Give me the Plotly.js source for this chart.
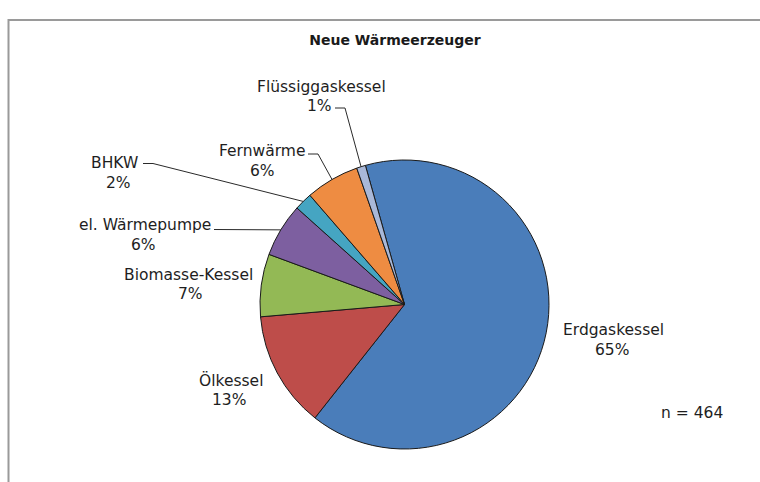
<!DOCTYPE html>
<html><head><meta charset="utf-8">
<script src="https://cdn.plot.ly/plotly-3.0.1.min.js"></script>
<style>html,body{margin:0;padding:0;background:#fff}</style>
</head><body><div id="chart" style="width:760px;height:482px"></div>
<script>
// ---- data ----
const categories = ['Erdgaskessel', 'Ölkessel', 'Biomasse-Kessel', 'el. Wärmepumpe', 'BHKW', 'Fernwärme', 'Flüssiggaskessel'];
const shares = [65, 13, 7, 6, 2, 6, 1];
const sliceColors = ['#4A7DBA', '#BE4D4A', '#93B955', '#7D5FA0', '#45A5C2', '#EE8C42', '#A9B8D8'];
const chartTitle = 'Neue Wärmeerzeuger';
const sampleNote = 'n = 464';

// ---- layout helpers (pixel -> paper) ----
const W = 760, H = 482;
const cx = 404.5, cy = 304.5, R = 144.5;
const rotation = -15.7;
const px = x => x / W;
const py = y => 1 - y / H;

// label positions (name centre, percent centre) and optional leader start/elbow in px
const labelLayout = {
  'Erdgaskessel':     {nx: 613, ny: 330, qx: 612, qy: 350},
  'Ölkessel':         {nx: 231, ny: 380, qx: 229, qy: 400},
  'Biomasse-Kessel':  {nx: 188, ny: 275, qx: 190, qy: 294},
  'el. Wärmepumpe':   {nx: 145, ny: 225, qx: 143, qy: 245, lead: [[214, 229.5]]},
  'BHKW':             {nx: 114, ny: 163, qx: 118, qy: 183, lead: [[143, 163.5], [153, 163.5]]},
  'Fernwärme':        {nx: 262, ny: 151, qx: 262, qy: 171, lead: [[308, 154], [318, 154]]},
  'Flüssiggaskessel': {nx: 321, ny: 87,  qx: 319, qy: 106, lead: [[335, 108], [345, 108]]}
};

const fontFam = 'DejaVu Sans, Arial, sans-serif';
const txtColor = '#1e1e1e';
const total = shares.reduce((a, b) => a + b, 0);

const annotations = [];
const shapes = [];

// frame
shapes.push({type: 'path', xref: 'paper', yref: 'paper',
  path: `M ${px(8.5)} ${py(483)} L ${px(8.5)} ${py(20)} L ${px(761)} ${py(20)}`,
  line: {color: '#9a9a9a', width: 2}});

let cum = rotation;
categories.forEach((name, i) => {
  const span = shares[i] / total * 360;
  const mid = (cum + span / 2) * Math.PI / 180;
  cum += span;
  const ex = cx + R * Math.sin(mid), ey = cy - R * Math.cos(mid);
  const L = labelLayout[name];
  annotations.push({xref: 'paper', yref: 'paper', x: px(L.nx), y: py(L.ny), text: name,
    showarrow: false, xanchor: 'center', yanchor: 'middle', font: {family: fontFam, size: 15.5, color: txtColor}});
  annotations.push({xref: 'paper', yref: 'paper', x: px(L.qx), y: py(L.qy), text: shares[i] + '%',
    showarrow: false, xanchor: 'center', yanchor: 'middle', font: {family: fontFam, size: 15.5, color: txtColor}});
  if (L.lead) {
    const pts = L.lead.concat([[ex, ey]]);
    const path = pts.map((p, k) => (k ? 'L ' : 'M ') + px(p[0]) + ' ' + py(p[1])).join(' ');
    shapes.push({type: 'path', xref: 'paper', yref: 'paper', path: path, line: {color: '#2a2a2a', width: 1}});
  }
});

annotations.push({xref: 'paper', yref: 'paper', x: px(692), y: py(413), text: sampleNote,
  showarrow: false, xanchor: 'center', yanchor: 'middle', font: {family: fontFam, size: 15.5, color: txtColor}});

const trace = {
  type: 'pie', values: shares, labels: categories, sort: false, direction: 'clockwise',
  rotation: rotation, textinfo: 'none', hoverinfo: 'none', showlegend: false,
  marker: {colors: sliceColors, line: {color: '#1a1a1a', width: 1}},
  domain: {x: [px(cx - R), px(cx + R)], y: [py(cy + R), py(cy - R)]}
};

const layout = {
  width: W, height: H, margin: {l: 0, r: 0, t: 0, b: 0},
  paper_bgcolor: '#ffffff', showlegend: false,
  title: {text: '<b>' + chartTitle + '</b>', x: px(395), y: py(40), xref: 'paper', yref: 'paper',
    xanchor: 'center', yanchor: 'middle', font: {family: fontFam, size: 14, color: '#1a1a1a'}},
  annotations: annotations, shapes: shapes
};

Plotly.newPlot('chart', [trace], layout, {displayModeBar: false, staticPlot: true});
</script></body></html>
